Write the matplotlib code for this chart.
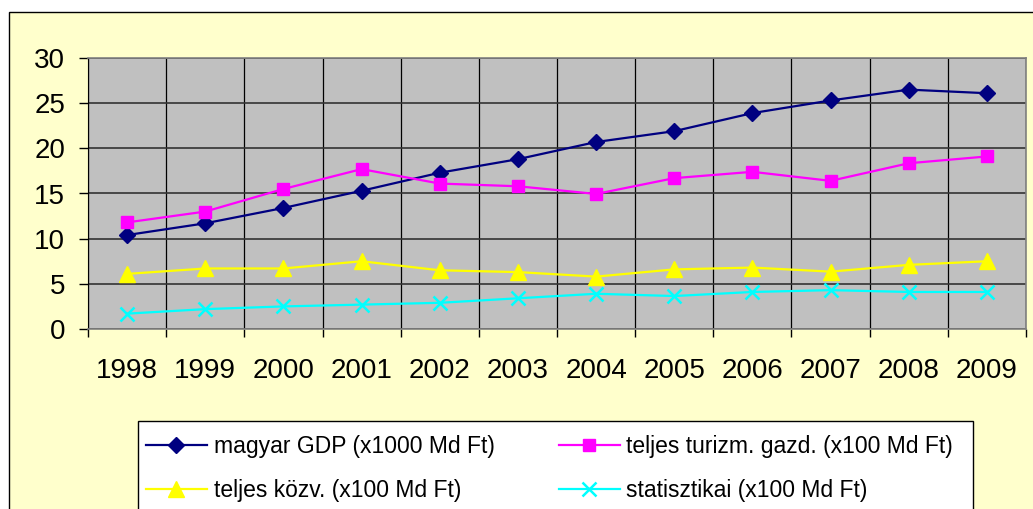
import matplotlib
matplotlib.use("Agg")
import matplotlib.pyplot as plt
from matplotlib.patches import Rectangle
import numpy as np

plt.rcParams['font.family'] = ['Liberation Sans', 'DejaVu Sans']

years = ['1998', '1999', '2000', '2001', '2002', '2003',
         '2004', '2005', '2006', '2007', '2008', '2009']
gdp = [10.4, 11.7, 13.4, 15.3, 17.3, 18.8, 20.7, 21.9, 23.9, 25.3, 26.5, 26.1]
turizm = [11.8, 13.0, 15.5, 17.7, 16.1, 15.8, 14.95, 16.7, 17.4, 16.4, 18.35, 19.1]
kozv = [6.1, 6.7, 6.7, 7.5, 6.5, 6.3, 5.8, 6.6, 6.8, 6.35, 7.1, 7.5]
stat = [1.7, 2.2, 2.5, 2.7, 2.9, 3.4, 3.9, 3.65, 4.1, 4.3, 4.1, 4.1]

labels = ['magyar GDP (x1000 Md Ft)', 'teljes turizm. gazd. (x100 Md Ft)',
          'teljes közv. (x100 Md Ft)', 'statisztikai (x100 Md Ft)']

W, H = 1033, 509
fig = plt.figure(figsize=(W / 100, H / 100), dpi=100)
fig.patch.set_facecolor('white')

# chart area frame (pale yellow, black border), drawn behind the axes
fig.patches.append(Rectangle((9 / W, -0.05), 1.05, 1 - 12 / H + 0.05,
                             transform=fig.transFigure, facecolor='#FFFFCC',
                             edgecolor='black', lw=1.0, zorder=-1))
# legend box, runs off the bottom of the picture like in the original
fig.patches.append(Rectangle((138 / W, -0.05), (973 - 138) / W, 0.05 + 1 - 421 / H,
                             transform=fig.transFigure, facecolor='white',
                             edgecolor='black', lw=1.0, zorder=-0.5))

ax = fig.add_axes([88 / W, 1 - 329 / H, 938 / W, 271 / H])
ax.set_facecolor('#C0C0C0')

x = np.arange(len(years)) + 0.5
l1, = ax.plot(x, gdp, color='#000080', lw=1.6, marker='D', ms=8.5, zorder=3)
l2, = ax.plot(x, turizm, color='#FF00FF', lw=1.6, marker='s', ms=9, zorder=3)
l3, = ax.plot(x, kozv, color='#FFFF00', lw=1.6, marker='^', ms=11, zorder=3)
l4, = ax.plot(x, stat, color='#00FFFF', lw=1.6, marker='x', ms=10, mew=1.8, zorder=3)

ax.set_xlim(0, len(years))
ax.set_ylim(0, 30)
ax.set_yticks(range(0, 31, 5))
ax.set_xticks(np.arange(len(years) + 1))
ax.set_xticklabels([])
ax.set_xticks(x, minor=True)
ax.set_xticklabels(years, minor=True)

ax.tick_params(axis='y', direction='out', length=6.5, width=1, pad=10, labelsize=20)
ax.tick_params(axis='x', which='major', direction='out', length=5.5, width=1)
ax.tick_params(axis='x', which='minor', length=0, pad=21, labelsize=20)

ax.grid(True, axis='y', color='#333333', lw=1.2, zorder=1)
ax.grid(True, axis='x', which='major', color='black', lw=0.9, zorder=1)
ax.set_axisbelow(True)
for side in ['top', 'right', 'bottom']:
    ax.spines[side].set_color('#808080')
    ax.spines[side].set_linewidth(1.2)
ax.spines['left'].set_color('black')

# legend filled column-wise, so order gives rows: GDP | turizm, kozv | stat
leg = fig.legend([l1, l3, l2, l4], [labels[0], labels[2], labels[1], labels[3]],
                 loc='upper left', bbox_to_anchor=(132 / W, 1 - 421 / H), ncol=2,
                 fontsize=16.5, frameon=False, handlelength=2.66,
                 labelspacing=0.92, columnspacing=2.8, borderpad=0.6,
                 handletextpad=0.3, borderaxespad=0)

fig.savefig('out.png', dpi=100)
